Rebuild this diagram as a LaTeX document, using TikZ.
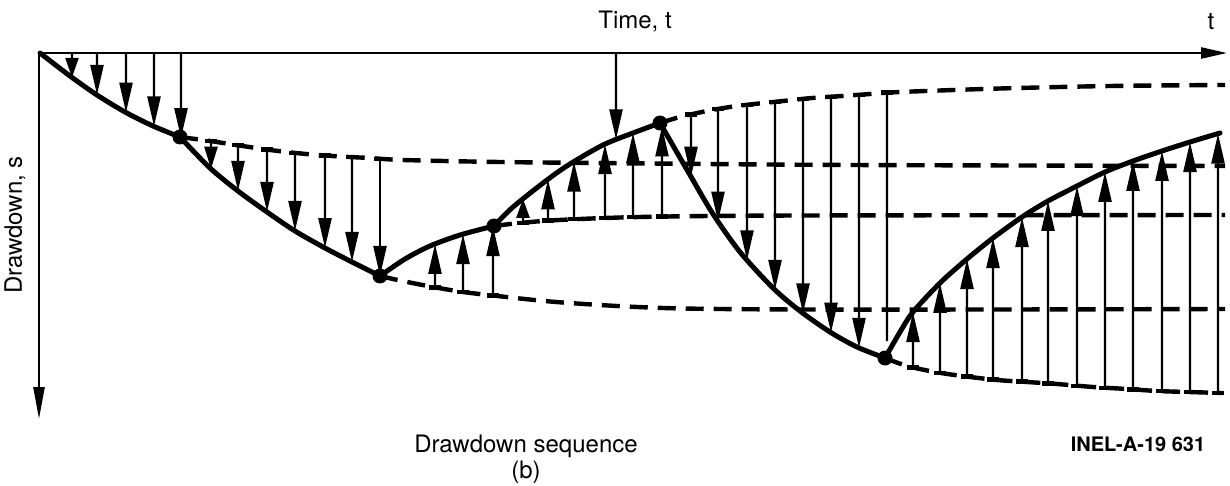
\documentclass[tikz,border=0pt]{standalone}
\usepackage{fontspec}
\setmainfont{TeX Gyre Heros}
\usetikzlibrary{arrows.meta,intersections,calc}
\newdimen\fdimA \newdimen\fdimB
\tikzset{
  solidcurve/.style={line width=2.5pt, line join=round, line cap=round},
  dashcurve/.style={line width=2.2pt, dash pattern=on 9pt off 5pt},
  shaft/.style={line width=1.2pt},
  basetick/.style={line width=2.2pt},
  axisline/.style={line width=1.2pt},
  dot/.style={circle, fill=black, inner sep=0pt, minimum size=7.5pt},
  lbl/.style={font=\fontsize{12pt}{14pt}\selectfont, inner sep=0pt},
}
% #1 x position, #2 base path, #3 tip path, #4 half width of base tick (0 = none)
\newcommand\flowarrow[4]{%
  \path[name path=vl] (#1,10) -- (#1,470);
  \path[name intersections={of=vl and #2, by=fb}];
  \path[name intersections={of=vl and #3, by=ft}];
  \pgfextracty{\fdimA}{\pgfpointanchor{fb}{center}}%
  \pgfextracty{\fdimB}{\pgfpointanchor{ft}{center}}%
  \pgfmathsetmacro\hl{min(15,0.8*abs(\fdimA-\fdimB))}%
  \draw[shaft,-{Triangle[length=\hl pt,width=6.5pt]}] (fb) -- (ft);
  \ifdim #4pt>0pt \draw[basetick] ($(fb)+(-#4,0)$) -- ($(fb)+(#4,0)$);\fi
}
\begin{document}
\begin{tikzpicture}[x=0.5pt,y=-0.5pt]
\useasboundingbox (0,0) rectangle (1230,486);

% axes
\draw[axisline,-{Triangle[length=13pt,width=5.5pt]}, name path=taxis] (39,53) -- (1227,53);
\draw[axisline,-{Triangle[length=16pt,width=5.5pt]}] (39,53) -- (39,419);

% dashed continuation curves
\draw[dashcurve, name path=Ad] plot[smooth] coordinates {(180,137) (210,141) (236,145) (270,150) (306,154) (340,156.5) (370,158) (403,160) (500,162) (650,163.5) (850,165) (1225,166)};
\draw[dashcurve, name path=Bd] plot[smooth] coordinates {(380,276) (400,280.5) (433,287) (463,292) (493,295.5) (550,301.5) (617,306) (683,308.5) (800,309.5) (1000,309.5) (1225,309)};
\draw[dashcurve, name path=Cd] plot[smooth] coordinates {(494,226) (515,223.5) (550,220.5) (605,218) (667,216.5) (800,215.5) (1225,215)};
\draw[dashcurve, name path=Dd] plot[smooth] coordinates {(660,123) (680,117) (707,111) (737,106) (783,101) (812,98) (842,96) (870,94) (900,92) (1000,88.5) (1110,86) (1225,85)};
\draw[dashcurve, name path=Fd] plot[smooth] coordinates {(885,358) (907,366) (935,372) (962,376) (997,380) (1027,382) (1057,384) (1093,387) (1127,389) (1157,391) (1188,392) (1222,393)};

% solid drawdown curve
\draw[solidcurve, name path=solid]
  plot[smooth] coordinates {(40,53) (70,76) (97,95) (125,112) (153,126) (180,137)}
  -- plot[smooth] coordinates {(180,137) (210,168) (238,191) (267,212) (295,231) (325,248) (352,262) (380,276)}
  -- plot[smooth] coordinates {(380,276) (405,259) (430,246) (460,235) (494,226)}
  -- plot[smooth] coordinates {(494,226) (513,207) (547,180) (570,164) (603,145) (633,133) (660,123)}
  -- plot[smooth] coordinates {(660,123) (690,175) (713,214) (740,252) (773,288) (800,311) (830,332) (857,347) (885,358)}
  -- plot[smooth] coordinates {(885,358) (900,332) (913,312) (940,283) (967,259) (993,238) (1022,217) (1048,201) (1077,186) (1105,172) (1133,161) (1162,151) (1190,142) (1220,133)};

% arrows
\foreach \x in {72,97,126,154,181} {\flowarrow{\x}{taxis}{solid}{0}}
\flowarrow{616}{taxis}{solid}{0}
\foreach \x in {211,238,267,295,325,352,380} {\flowarrow{\x}{Ad}{solid}{6}}
\foreach \x in {435,463,493} {\flowarrow{\x}{Bd}{solid}{6}}
\foreach \x in {523,548,574,605,633,662} {\flowarrow{\x}{Cd}{solid}{6}}
\foreach \x in {691,718,747,775,803,831,859} {\flowarrow{\x}{Dd}{solid}{6}}
\foreach \x in {913,940,967,993,1022,1048,1077,1105,1133,1162,1190,1218} {\flowarrow{\x}{Fd}{solid}{6}}
\path[name path=vlast] (887,10) -- (887,470);
\path[name intersections={of=vlast and Dd, by=lastbase}];
\coordinate (lastend) at (887,341);
\draw[shaft] (lastbase) -- (lastend);
\draw[basetick] ($(lastbase)+(-6,0)$) -- ($(lastbase)+(6,0)$);

% turning points
\node[dot] (P1) at (180,137) {};
\node[dot] (P2) at (380,276) {};
\node[dot] (P3) at (494,226) {};
\node[dot] (P4) at (660,123) {};
\node[dot] (P5) at (885,358) {};

% labels
\node[lbl] (timelbl) at (635,22) {Time, t};
\node[lbl] (tlbl) at (1211,22) {t};
\node[lbl, rotate=90] (slbl) at (15,225) {Drawdown, s};
\node[lbl] (seqlbl) at (526,446) {Drawdown sequence};
\node[lbl] (blbl) at (526,472) {(b)};
\node[inner sep=0pt, font=\fontsize{10pt}{12pt}\selectfont\bfseries] (inel) at (1138,444) {INEL-A-19 631};
\end{tikzpicture}
\end{document}
